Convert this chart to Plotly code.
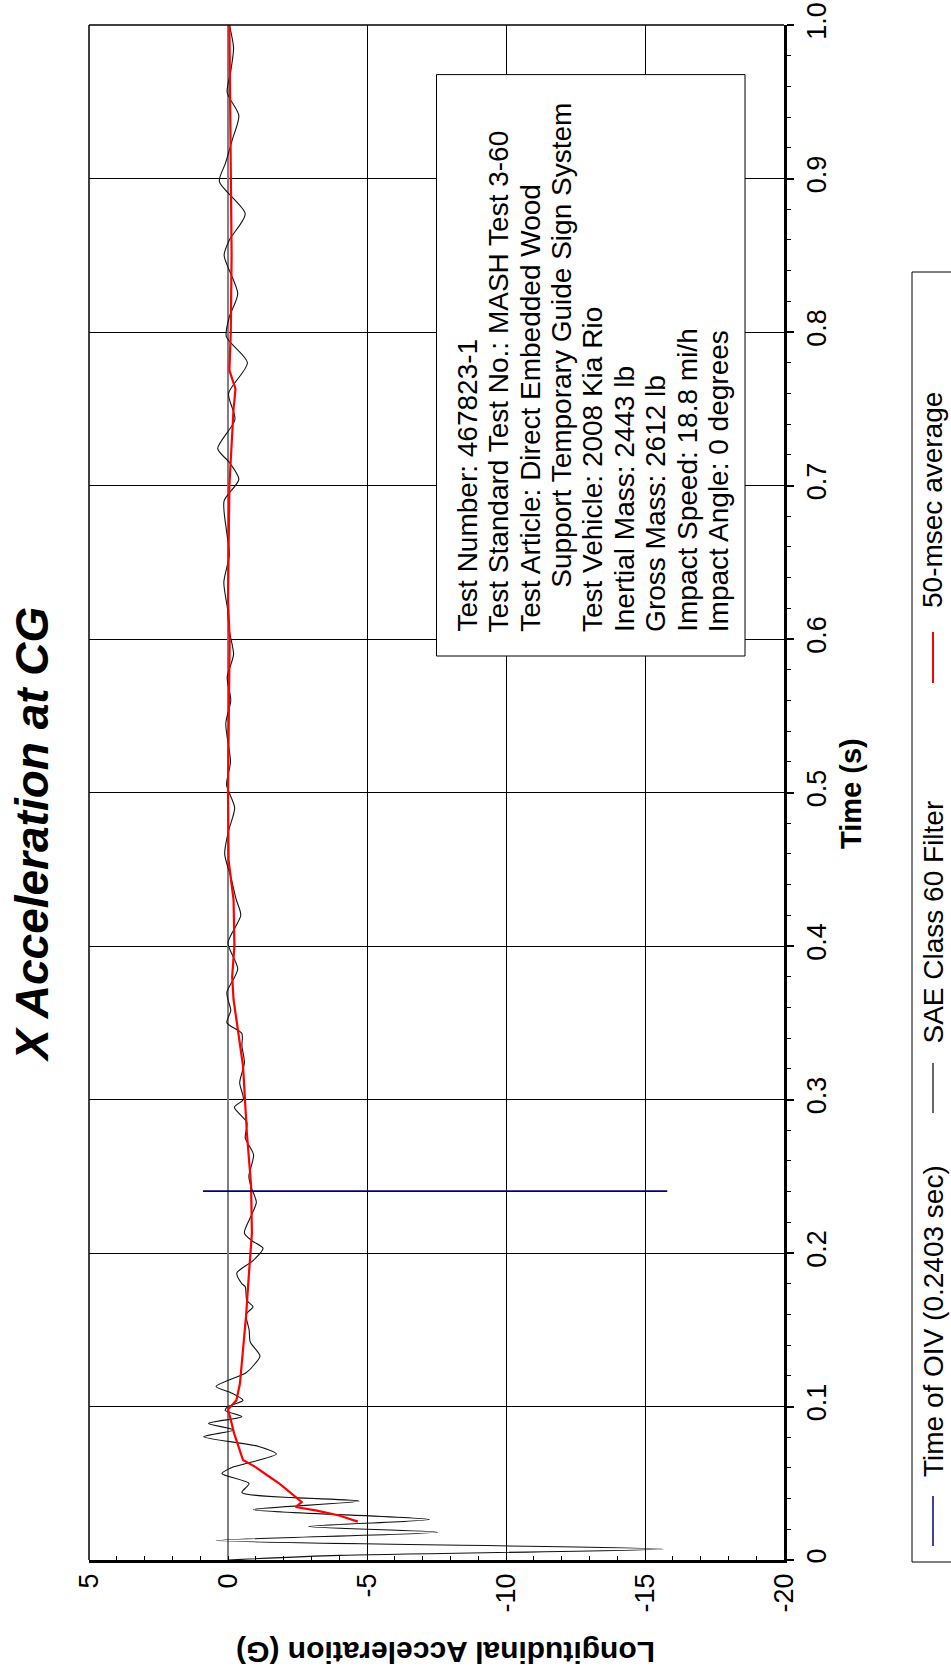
import plotly.graph_objects as go

# ---------------- data ----------------
sae_time = [0.000, 0.0030, 0.0072, 0.0127, 0.0181, 0.0218, 0.0264, 0.0328, 0.0384, 0.0440,
            0.0498, 0.0563, 0.0600, 0.0690, 0.0740, 0.0803, 0.0847, 0.0890, 0.0934, 0.0975,
            0.1000, 0.1040, 0.1090, 0.1130, 0.1220, 0.1280, 0.1330, 0.1420, 0.1500, 0.1600,
            0.1650, 0.1690, 0.1780, 0.1800, 0.1870, 0.1950, 0.2030, 0.2080, 0.2130, 0.2230,
            0.2330, 0.2430, 0.2500, 0.2640, 0.2750, 0.2850, 0.2950, 0.3000, 0.3110, 0.3240,
            0.3350, 0.3430, 0.3500, 0.3580, 0.3650, 0.3700, 0.3850, 0.4020, 0.4200, 0.4300,
            0.4450, 0.4600, 0.4750, 0.4900, 0.5050, 0.5200, 0.5450, 0.5600, 0.5750, 0.5900,
            0.6050, 0.6200, 0.6370, 0.6550, 0.6700, 0.6900, 0.7040, 0.7150, 0.7240, 0.7430,
            0.7600, 0.7800, 0.7970, 0.8100, 0.8250, 0.8500, 0.8600, 0.8770, 0.8980, 0.9100,
            0.9250, 0.9410, 0.9560, 0.9700, 0.9850, 1.0000]
sae_acc = [0.0, -4.0, -15.65, 0.43, -7.54, -2.9, -7.24, -0.9, -4.72, -0.5,
           -0.76, 0.22, -0.1, -1.74, -1.1, 0.87, -0.2, 0.7, -0.5, 0.1,
           0.0, -0.54, -0.1, 0.43, -0.65, -0.98, -1.15, -0.8, -0.76, -0.65,
           -0.9, -0.68, -0.62, -0.5, -0.32, -0.9, -1.26, -0.86, -0.59, -0.8,
           -1.02, -0.83, -0.75, -0.92, -0.62, -0.68, -0.23, -0.55, -0.42, -0.59,
           -0.5, -0.5, 0.04, -0.1, 0.0, 0.04, -0.35, 0.0, -0.46, -0.3,
           -0.1, 0.12, -0.02, -0.24, 0.05, -0.09, 0.08, -0.1, 0.03, -0.2,
           -0.05, 0.02, 0.15, -0.05, 0.05, 0.14, -0.39, -0.05, 0.37, -0.25,
           -0.02, -0.7, 0.06, -0.05, -0.35, 0.14, -0.05, -0.62, 0.31, 0.09,
           -0.15, -0.39, 0.03, -0.1, -0.2, -0.05]

avg_time = [0.0250, 0.0290, 0.0323, 0.0345, 0.0378, 0.0432, 0.0476, 0.0498, 0.0552, 0.0607,
            0.0651, 0.0738, 0.0825, 0.0913, 0.0980, 0.1040, 0.1150, 0.1370, 0.1520, 0.1590,
            0.1830, 0.2130, 0.2440, 0.2780, 0.3220, 0.3650, 0.3800, 0.4000, 0.4300, 0.4560,
            0.5000, 0.6000, 0.6250, 0.7000, 0.7500, 0.7630, 0.7750, 0.8000, 0.8500, 0.9000,
            0.9600, 1.0000]
avg_acc = [-4.67, -4.0, -3.15, -2.43, -2.65, -2.28, -1.96, -1.85, -1.41, -0.98,
           -0.54, -0.37, -0.22, -0.1, 0.0, -0.3, -0.43, -0.54, -0.62, -0.65,
           -0.74, -0.86, -0.83, -0.68, -0.54, -0.2, -0.15, -0.23, -0.2, -0.02,
           0.0, -0.06, 0.0, -0.05, -0.2, -0.27, -0.05, -0.1, -0.13, -0.1,
           -0.06, -0.05]

oiv_time = 0.2403
oiv_acc_span = [0.9, -15.8]

acc_ticks = [5, 0, -5, -10, -15, -20]
acc_tick_labels = ["5", "0", "-5", "-10", "-15", "-20"]
time_ticks = [0, 0.1, 0.2, 0.3, 0.4, 0.5, 0.6, 0.7, 0.8, 0.9, 1.0]
time_tick_labels = ["0", "0.1", "0.2", "0.3", "0.4", "0.5", "0.6", "0.7", "0.8", "0.9", "1.0"]

info_lines = [
    "Test Number: 467823-1",
    "Test Standard Test No.: MASH Test 3-60",
    "Test Article: Direct Embedded Wood",
    "Support Temporary Guide Sign System",
    "Test Vehicle: 2008 Kia Rio",
    "Inertial Mass: 2443 lb",
    "Gross Mass: 2612 lb",
    "Impact Speed: 18.8 mi/h",
    "Impact Angle: 0 degrees",
]
info_indent = [False, False, False, True, False, False, False, False, False]

legend_labels = ["Time of OIV (0.2403 sec)", "SAE Class 60 Filter", "50-msec average"]
legend_colors = ["#000080", "#000000", "#ff0000"]
legend_widths = [1.5, 1.2, 2.0]

title_text = "X Acceleration at CG"
x_title = "Longitudinal Acceleration (G)"
y_title = "Time (s)"

# ---------------- layout geometry ----------------
W, H = 951, 1676
L, R, T, B = 89, 167, 25, 116
PW = W - L - R
PH = H - T - B
FONT = "Liberation Sans, Arial, Helvetica, sans-serif"


def px(xp):
    return (xp - L) / PW


def py(yp):
    return (T + PH - yp) / PH


fig = go.Figure()

fig.add_trace(go.Scatter(x=sae_acc, y=sae_time, mode="lines",
                         line=dict(color="#111111", width=1.1, shape="spline", smoothing=0.7),
                         name=legend_labels[1], showlegend=False))
fig.add_trace(go.Scatter(x=avg_acc, y=avg_time, mode="lines",
                         line=dict(color="#ff0000", width=2.2),
                         name=legend_labels[2], showlegend=False))
fig.add_trace(go.Scatter(x=oiv_acc_span, y=[oiv_time, oiv_time], mode="lines",
                         line=dict(color="#000080", width=1.6),
                         name=legend_labels[0], showlegend=False))

shapes = []
# top and left frame
shapes.append(dict(type="line", xref="paper", yref="paper", x0=0, x1=1, y0=1, y1=1,
                   line=dict(color="black", width=1.5)))
shapes.append(dict(type="line", xref="paper", yref="paper", x0=0, x1=0, y0=0, y1=1,
                   line=dict(color="black", width=1.5)))
# info box
shapes.append(dict(type="rect", xref="paper", yref="paper",
                   x0=px(436.5), x1=px(745), y0=py(656), y1=py(74.6),
                   fillcolor="white", line=dict(color="black", width=1), layer="above"))
# legend box (extends beyond right edge)
shapes.append(dict(type="rect", xref="paper", yref="paper",
                   x0=px(912), x1=px(1000), y0=py(1562), y1=py(272),
                   fillcolor="rgba(0,0,0,0)", line=dict(color="black", width=1), layer="above"))

annotations = []
# legend entries
sym_y = [(1496, 1546), (1063, 1113), (632, 683)]
txt_bottom = [1479, 1046, 610]
for lab, col, lw, (a, b), tb in zip(legend_labels, legend_colors, legend_widths, sym_y, txt_bottom):
    shapes.append(dict(type="line", xref="paper", yref="paper", x0=px(933), x1=px(933),
                       y0=py(b), y1=py(a), line=dict(color=col, width=lw)))
    annotations.append(dict(text=lab, xref="paper", yref="paper", x=px(933), y=py(tb),
                            xanchor="center", yanchor="bottom", textangle=-90, showarrow=False,
                            font=dict(family=FONT, size=28, color="black")))

# info text lines
for i, (line, ind) in enumerate(zip(info_lines, info_indent)):
    cx = 467 + 31.4 * i
    start = 590 if ind else 634
    annotations.append(dict(text=line, xref="paper", yref="paper", x=px(cx), y=py(start),
                            xanchor="center", yanchor="bottom", textangle=-90, showarrow=False,
                            font=dict(family=FONT, size=28, color="black")))

# titles
annotations.append(dict(text="<b><i>" + title_text + "</i></b>", xref="paper", yref="paper",
                        x=px(32), y=py(835), xanchor="center", yanchor="middle",
                        textangle=-90, showarrow=False,
                        font=dict(family=FONT, size=46, color="black")))
annotations.append(dict(text="<b>" + y_title + "</b>", xref="paper", yref="paper",
                        x=px(851), y=py(793), xanchor="center", yanchor="middle",
                        textangle=-90, showarrow=False,
                        font=dict(family=FONT, size=29, color="black")))
annotations.append(dict(text="<b>" + x_title + "</b>", xref="paper", yref="paper",
                        x=px(446), y=py(1653), xanchor="center", yanchor="middle",
                        textangle=180, showarrow=False,
                        font=dict(family=FONT, size=30, color="black")))

fig.update_layout(
    width=W, height=H,
    margin=dict(l=L, r=R, t=T, b=B, autoexpand=False),
    paper_bgcolor="white", plot_bgcolor="white",
    showlegend=False,
    font=dict(family=FONT, size=27, color="black"),
    shapes=shapes, annotations=annotations,
    xaxis=dict(range=[5, -20], tickmode="array", tickvals=acc_ticks, ticktext=acc_tick_labels,
               tickangle=-90, tickfont=dict(family=FONT, size=27, color="black"),
               showgrid=True, gridcolor="black", gridwidth=1.2,
               zeroline=True, zerolinecolor="#808080", zerolinewidth=2,
               showline=True, linecolor="black", linewidth=2.5,
               ticks="inside", ticklen=4, tickcolor="black", tickwidth=1,
               minor=dict(tickmode="linear", tick0=0, dtick=1, ticks="inside", ticklen=4,
                          tickcolor="black", tickwidth=1, showgrid=False)),
    yaxis=dict(range=[0, 1], side="right", tickmode="array", tickvals=time_ticks,
               ticktext=time_tick_labels, tickangle=-90,
               tickfont=dict(family=FONT, size=27, color="black"),
               showgrid=True, gridcolor="black", gridwidth=1.2, zeroline=False,
               showline=True, linecolor="black", linewidth=2.5,
               ticks="outside", ticklen=7, tickcolor="black", tickwidth=1.5,
               minor=dict(tickmode="linear", tick0=0, dtick=0.02, ticks="outside", ticklen=4,
                          tickcolor="black", tickwidth=1, showgrid=False)),
)

fig.write_html(
    "out.html",
    config={"displayModeBar": False},
    post_script="document.body.style.margin='0px';document.body.style.overflow='hidden';",
)
